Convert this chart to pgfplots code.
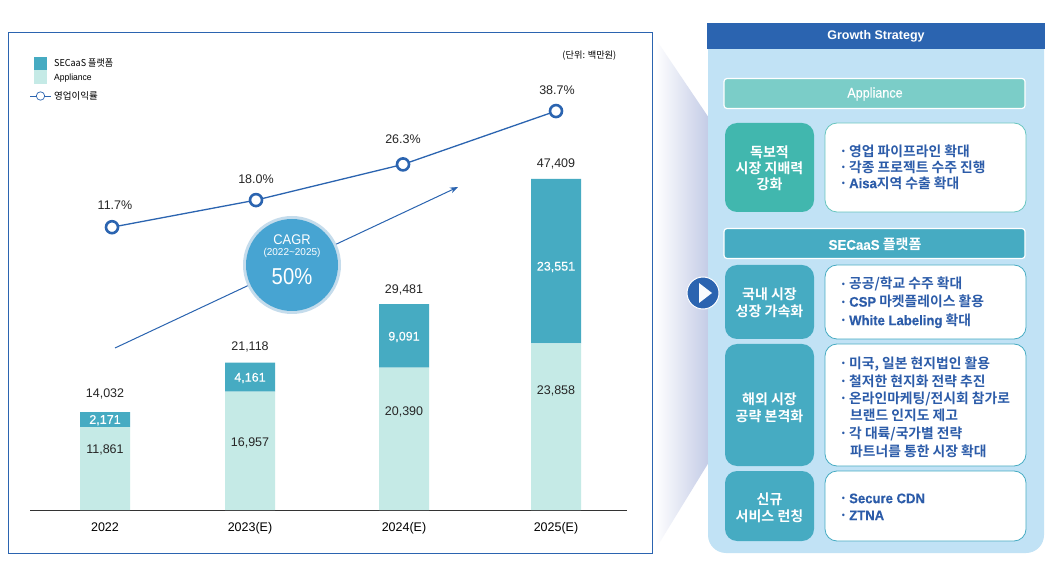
\documentclass[border=0pt]{standalone}
\usepackage{pgfplots}
\pgfplotsset{compat=1.18}
\usepackage{fontspec}
\setmainfont{Liberation Sans}
\newfontfamily\kr{Noto Sans CJK KR}[BoldFont={Noto Sans CJK KR Bold}]
\newfontfamily\latb{Liberation Sans}[FakeBold=0.4]
\newcommand{\lat}[1]{\scalebox{0.95}[1]{\latb #1}}
\usetikzlibrary{arrows.meta}
\definecolor{navy}{HTML}{2B64B0}
\definecolor{txtblue}{HTML}{2C5CA9}
\definecolor{teal1}{HTML}{46ABC2}
\definecolor{mint}{HTML}{C5EAE6}
\definecolor{green1}{HTML}{41B7AE}
\definecolor{green2}{HTML}{7BCDC8}
\definecolor{panel}{HTML}{C1E2F5}
\definecolor{wedge}{HTML}{C3CBE6}
\definecolor{cagr}{HTML}{47A4D2}
\definecolor{cagrO}{HTML}{C5DCEC}
\newcommand{\fs}[1]{\fontsize{#1}{#1}\selectfont}
\tikzset{lab/.style={font=\fs{12.5},text=black!85,inner sep=0pt}}
\pgfplotstableread{
x   appliance secaas
105 11861     2171
250 16957     4161
404 20390     9091
556 23858     23551
}\barsdata
\pgfplotstableread{
x   pct
112 11.7
256 18.0
403 26.3
556 38.7
}\pctdata
\begin{document}
\begin{tikzpicture}
\fill[white] (0,0) rectangle (1059pt,573pt);
\begin{scope}[x=1pt,y=-1pt,yshift=573pt]
  % wedge
  \shade[left color=white,right color=wedge] (655,38) -- (709,118) -- (709,462) -- (655,550) -- cycle;
  % chart frame
  \draw[navy,line width=1pt] (8.5,32.5) rectangle (652.5,553.5);
  % panel
  \fill[panel] (708,48) -- (1044,48) -- (1044,535) arc[start angle=0,end angle=90,radius=18] -- (726,553) arc[start angle=90,end angle=180,radius=18] -- cycle;
  \fill[navy] (707,23) rectangle (1045,49);
  \node[white,font=\fs{12.5}\bfseries] at (876,36) {Growth Strategy};
  % section bars
  \draw[white,line width=1.2pt,fill=green2,rounded corners=3pt] (724,78.5) rectangle (1025,108.5);
  \node[white,font=\fs{14}\latb] at (875,94) {\scalebox{0.9}[1]{Appliance}};
  \draw[white,line width=1.2pt,fill=teal1,rounded corners=3pt] (724,228.5) rectangle (1025,258.5);
  \node[white,font=\fs{14}\kr\bfseries] at (875,244.5) {\lat{SECaaS} 플랫폼};
  % left boxes
  \fill[green1,rounded corners=12pt] (725,123) rectangle (814,212);
  \fill[teal1,rounded corners=12pt] (725,265) rectangle (814,339);
  \fill[teal1,rounded corners=12pt] (725,344) rectangle (814,466);
  \fill[teal1,rounded corners=12pt] (725,471) rectangle (814,541);
  % right boxes
  \draw[green1!80,fill=white,line width=0.8pt,rounded corners=12pt] (825,123) rectangle (1026,212);
  \draw[teal1,fill=white,line width=0.8pt,rounded corners=12pt] (825,265) rectangle (1026,339);
  \draw[teal1,fill=white,line width=0.8pt,rounded corners=12pt] (825,344) rectangle (1026,466);
  \draw[teal1,fill=white,line width=0.8pt,rounded corners=12pt] (825,471) rectangle (1026,541);
  % left box text
  \foreach \yy/\lbl in {152/독보적,168/시장 지배력,184/강화,294.5/국내 시장,311/성장 가속화,399/해외 시장,416/공략 본격화,499/신규,516/서비스 런칭}
    \node[white,font=\fs{14}\kr\bfseries,inner sep=0pt] at (769.5,\yy) {\lbl};
  % right box text
  \foreach \yy/\lbl in {153.5/{영업 파이프라인 확대},169.5/{각종 프로젝트 수주 진행},185.5/{\lat{Aisa}지역 수출 확대},286/{공공/학교 수주 확대},304/{\lat{CSP} 마켓플레이스 활용},322.5/{\lat{White Labeling} 확대},365.5/{미국, 일본 현지법인 활용},383.5/{철저한 현지화 전략 추진},400.5/{온라인마케팅/전시회 참가로},435.5/{각 대륙/국가별 전략},500.5/{\lat{Secure CDN}},517.5/{\lat{ZTNA}}}{
    \node[txtblue,font=\fs{13.8}\kr\bfseries,inner sep=0pt,anchor=mid west] at (849,\yy) {\lbl};
    \node[txtblue,font=\fs{13.8}\kr\bfseries,inner sep=0pt] at (843.5,\yy) {·};
  }
  \foreach \yy/\lbl in {417.5/{브랜드 인지도 제고},453.5/{파트너를 통한 시장 확대}}
    \node[txtblue,font=\fs{13.8}\kr\bfseries,inner sep=0pt,anchor=mid west] at (850,\yy) {\lbl};
  % play button
  \draw[white,line width=1pt,fill=navy] (703,293) circle[radius=16];
  \fill[white!90!panel] (699,283) -- (712,293) -- (699,303) -- cycle;
  % legend
  \fill[teal1] (34,57) rectangle (47,70);
  \fill[mint] (34,70) rectangle (47,84);
  \node[anchor=mid west,inner sep=0pt,font=\fs{9.5}\kr] at (54,63.5) {\scalebox{0.95}[1]{SECaaS 플랫폼}};
  \node[anchor=mid west,inner sep=0pt,font=\fs{9}] at (54,78) {\scalebox{0.95}[1]{Appliance}};
  \draw[navy,line width=0.7pt] (30,96) -- (51,96);
  \draw[navy,line width=0.7pt,fill=white] (40.5,96) circle[radius=4.2];
  \node[anchor=mid west,inner sep=0pt,font=\fs{9.5}\kr] at (54,96.5) {영업이익률};
  \node[anchor=mid east,inner sep=0pt,font=\fs{9.2}\kr] at (616.5,56) {(단위: 백만원)};
\end{scope}
% bars
\begin{axis}[
  at={(30pt,63pt)},anchor=origin,
  scale only axis,width=597pt,height=419pt,
  xmin=30,xmax=627,ymin=0,ymax=60000,
  ybar stacked,bar width=50pt,
  axis x line=bottom,axis y line=none,
  axis line style={black!80,line width=0.8pt,-},
  xtick={105,250,404,556},
  xticklabels={2022,2023(E),2024(E),2025(E)},
  major tick length=0pt,
  xticklabel style={font=\fs{12.5},yshift=-9pt},
  clip=false,
]
\addplot[fill=mint,draw=none] table[x=x,y=appliance]{\barsdata};
\addplot[fill=teal1,draw=none] table[x=x,y=secaas]{\barsdata};
\end{axis}
% value labels over the bars
\begin{axis}[
  at={(30pt,63pt)},anchor=origin,
  scale only axis,width=597pt,height=419pt,
  xmin=30,xmax=627,ymin=0,ymax=60000,
  hide axis,clip=false,
]
\node[lab] at (axis cs:105,8600) {11,861};
\node[lab] at (axis cs:250,9600) {16,957};
\node[lab] at (axis cs:404,14040) {20,390};
\node[lab] at (axis cs:556,17050) {23,858};
\node[lab,text=white,font=\fs{12.5}\latb] at (axis cs:105,12850) {2,171};
\node[lab,text=white,font=\fs{12.5}\latb] at (axis cs:250,18900) {4,161};
\node[lab,text=white,font=\fs{12.5}\latb] at (axis cs:404,24780) {9,091};
\node[lab,text=white,font=\fs{12.5}\latb] at (axis cs:556,34800) {23,551};
\node[lab] at (axis cs:105,16600) {14,032};
\node[lab] at (axis cs:250,23340) {21,118};
\node[lab] at (axis cs:404,31500) {29,481};
\node[lab] at (axis cs:556,49550) {47,409};
\end{axis}
% arrow and CAGR circle
\begin{scope}[x=1pt,y=-1pt,yshift=573pt]
  \draw[navy,line width=1pt,-{Stealth[length=8pt,width=6pt]}] (115,348) -- (458,187);
  \fill[cagrO] (292,265) circle[radius=49];
  \fill[cagr] (292,265) circle[radius=46];
  \node[white,font=\fs{14}] at (292,240) {\scalebox{0.92}[1]{CAGR}};
  \node[white,font=\fs{10}] at (292,253) {(2022\textasciitilde2025)};
  \node[white,font=\fs{23}] at (292,277) {\scalebox{0.88}[1]{50\%}};
\end{scope}
% line
\begin{axis}[
  at={(30pt,295.5pt)},anchor=origin,
  scale only axis,width=597pt,height=185pt,
  xmin=30,xmax=627,ymin=0,ymax=43.02,
  hide axis,clip=false,
]
\addplot[navy,line width=1.3pt,mark=*,mark size=6pt,
  mark options={draw=navy,fill=white,line width=2.6pt}] table[x=x,y=pct]{\pctdata};
\node[lab] at (axis cs:115,16.8) {11.7\%};
\node[lab] at (axis cs:256,22.9) {18.0\%};
\node[lab] at (axis cs:403,32.1) {26.3\%};
\node[lab] at (axis cs:557,43.6) {38.7\%};
\end{axis}
\end{tikzpicture}
\end{document}
